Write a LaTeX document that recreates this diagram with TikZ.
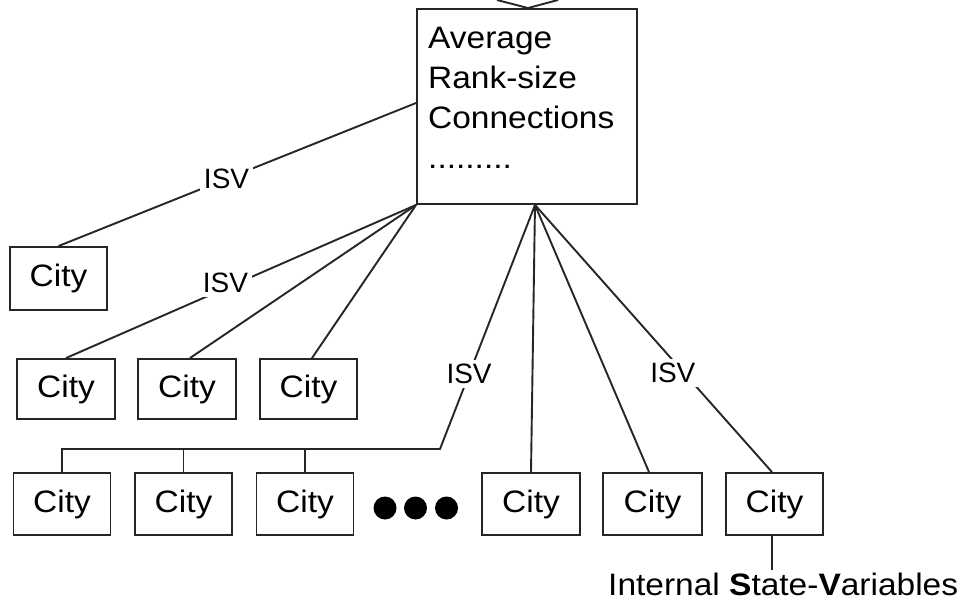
\documentclass[tikz,border=0pt]{standalone}
\usepackage{fontspec}
\setmainfont{Liberation Sans}
\newfontfamily\widefont[FakeStretch=1.08]{Liberation Sans}
\begin{document}
\begin{tikzpicture}[x=1pt,y=-1pt,
  link/.style={line width=1.9pt, draw=black!85},
  citybox/.style={draw=black!85, line width=1.9pt, minimum width=97pt, minimum height=62pt, inner sep=0pt,
    font=\widefont\fontsize{31}{37}\selectfont},
  isv/.style={fill=white, inner sep=4pt, font=\fontsize{28}{32}\selectfont},
  dotnode/.style={circle, fill=black, minimum size=23pt, inner sep=0pt}]
\fill[white] (0,0) rectangle (966,605);
\useasboundingbox (0,0) rectangle (966,605);

% aggregate box
\node[draw=black!85, line width=1.9pt, minimum width=220pt, minimum height=195pt, inner sep=0pt] (agg) at (527,106.5) {};
\node[anchor=north west, inner sep=0pt, align=left, font=\widefont\fontsize{31}{40}\selectfont] (aggtxt) at (428,26.8)
  {Average\\Rank-size\\Connections\\.........};

% cities
\node[citybox, minimum height=63pt] (c1) at (58.5,278.5) {City};
\node[citybox, minimum height=60pt, minimum width=98pt] (r2a) at (66,389) {City};
\node[citybox, minimum height=60pt, minimum width=98pt] (r2b) at (187,389) {City};
\node[citybox, minimum height=60pt] (r2c) at (308.5,389) {City};
\node[citybox] (r3a) at (62,504) {City};
\node[citybox] (r3b) at (183.5,504) {City};
\node[citybox] (r3c) at (305,504) {City};
\node[citybox, minimum width=98pt] (r3d) at (531,504) {City};
\node[citybox, minimum width=99pt] (r3e) at (652.5,504) {City};
\node[citybox] (r3f) at (774.5,504) {City};

% dots
\node[dotnode] (dot1) at (385,508) {};
\node[dotnode] (dot2) at (415.5,508) {};
\node[dotnode] (dot3) at (446.5,508) {};

% incoming lines at top
\coordinate (inL) at (497,0);
\coordinate (inR) at (558,0);
\coordinate (topin) at ([xshift=1pt]agg.north);
\draw[link] (inL) -- (topin) -- (inR);

% connectors
\draw[link] (c1.north) -- node[isv, pos=0.47] {ISV} ([yshift=3.5pt]agg.west);
\draw[link] (agg.south west) -- node[isv, pos=0.51, xshift=-12pt] {ISV} (r2a.north);
\draw[link] (agg.south west) -- ([xshift=3pt]r2b.north);
\draw[link] (agg.south west) -- ([xshift=3.5pt]r2c.north);

\coordinate (fan) at ([xshift=8pt]agg.south);
\coordinate (brk) at (440,449);
\draw[link] (r3a.north) |- (brk) -- node[isv, pos=0.306] {ISV} (fan);
\draw[link] (r3b.north) -- (r3b.north |- brk);
\draw[link] (r3c.north) -- (r3c.north |- brk);
\draw[link] (fan) -- (r3d.north);
\draw[link] (fan) -- ([xshift=-3.5pt]r3e.north);
\draw[link] (fan) -- node[isv, pos=0.628, xshift=-11pt] {ISV} ([xshift=-2.5pt]r3f.north);

% internal state variables
\node[anchor=base west, inner sep=0pt, font=\widefont\fontsize{31}{37}\selectfont] (istext) at (608,595)
  {Internal \textbf{S}tate-\textbf{V}ariables};
\coordinate (istop) at ([yshift=2pt]istext.north);
\draw[link] ([xshift=-2.5pt]r3f.south) -- ([xshift=-2.5pt]r3f.south |- istop);
\end{tikzpicture}
\end{document}
